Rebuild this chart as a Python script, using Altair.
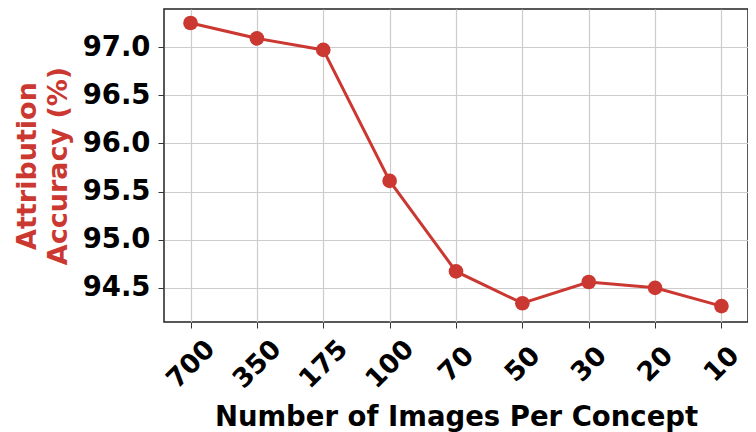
import altair as alt
import pandas as pd

labels = ["700", "350", "175", "100", "70", "50", "30", "20", "10"]
accuracy = [97.25, 97.09, 96.97, 95.61, 94.67, 94.34, 94.56, 94.50, 94.31]

df = pd.DataFrame({"idx": list(range(len(labels))), "label": labels, "acc": accuracy})

RED = "#cb3831"
FONT = "DejaVu Sans"

label_expr = "[" + ",".join(f"'{l}'" for l in labels) + "][datum.value]"

x = alt.X(
    "idx:Q",
    scale=alt.Scale(domain=[-0.4, 8.4], nice=False, zero=False),
    axis=alt.Axis(
        values=list(range(len(labels))),
        labelExpr=label_expr,
        title="Number of Images Per Concept",
        labelAngle=-45,
        labelAlign="center",
        labelBaseline="middle",
        labelOffset=0,
        labelPadding=36,
        labelFont=FONT,
        labelFontWeight="bold",
        labelFontSize=26.5,
        labelColor="black",
        titleFont=FONT,
        titleFontWeight="bold",
        titleFontSize=27.5,
        titleColor="black",
        titleBaseline="alphabetic",
        titleY=103,
        tickSize=6,
        tickColor="#333333",
        domain=False,
        grid=True,
        gridColor="#cccccc",
        gridWidth=1.2,
        labelFlush=False,
        labelOverlap=False,
        labelBound=False,
    ),
)

y = alt.Y(
    "acc:Q",
    scale=alt.Scale(domain=[94.145, 97.395], nice=False, zero=False),
    axis=alt.Axis(
        values=[94.5, 95.0, 95.5, 96.0, 96.5, 97.0],
        format=".1f",
        title=["Attribution", "Accuracy (%)"],
        labelFont=FONT,
        labelFontWeight="bold",
        labelFontSize=27.5,
        labelColor="black",
        labelPadding=8,
        titleFont=FONT,
        titleFontWeight="bold",
        titleFontSize=27,
        titleColor=RED,
        titleAngle=270,
        titleAlign="center",
        titleBaseline="middle",
        titleLineHeight=31,
        titleX=-137,
        titleY=156.5,
        tickSize=6,
        tickColor="#333333",
        domain=False,
        grid=True,
        gridColor="#cccccc",
        gridWidth=1.2,
        labelFlush=False,
    ),
)

base = alt.Chart(df)
line = base.mark_line(color=RED, strokeWidth=3).encode(x=x, y=y)
pts = base.mark_circle(color=RED, size=215, opacity=1).encode(x=x, y=y)

chart = (
    alt.layer(line, pts)
    .properties(
        width=584,
        height=313,
        autosize=alt.AutoSizeParams(type="none"),
        padding={"left": 156, "top": 1, "right": 0, "bottom": 110},
        background="white",
    )
    .configure_view(stroke="#222222", strokeWidth=1.5)
)

chart.save("out.html", embed_options={"renderer": "svg", "actions": False})
